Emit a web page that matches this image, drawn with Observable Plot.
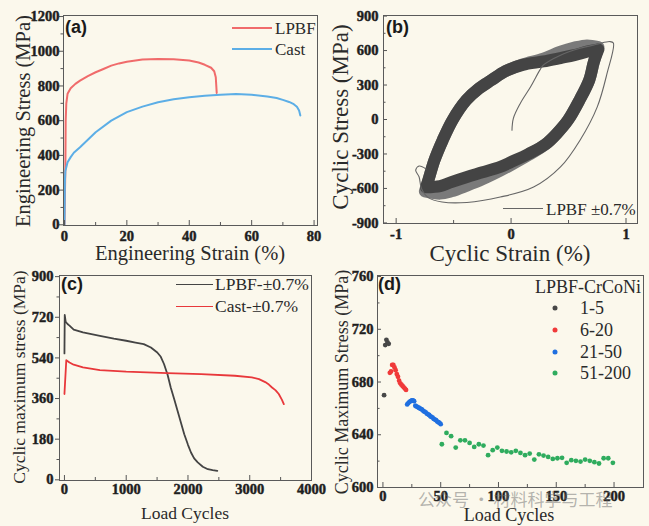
<!DOCTYPE html>
<html><head><meta charset="utf-8">
<script src="https://cdn.jsdelivr.net/npm/d3@7"></script>
<script src="https://cdn.jsdelivr.net/npm/@observablehq/plot@0.6"></script>
<style>
html,body{margin:0;padding:0;background:#fbf8ec;}
#fig{position:relative;width:649px;height:526px;background:#fbf8ec;overflow:hidden;font-family:"Liberation Serif","Times New Roman",serif;color:#2a2a2a;}
.t{position:absolute;white-space:nowrap;line-height:1;transform:translate(0,-50%);}
.c{transform:translate(-50%,-50%);}
.r{transform:translate(-50%,-50%) rotate(-90deg);}
.pl{font-family:"Liberation Sans",Arial,sans-serif;font-weight:bold;font-size:18px;color:#1a1a1a;}
.ln{position:absolute;height:0;}
.dot{position:absolute;width:5px;height:5px;border-radius:50%;transform:translate(-50%,-50%);}
</style></head>
<body><div id="fig"></div>
<script>
// ---------- Panel (a): tensile curves ----------
const aLPBFStrain = [0, 0.3, 0.4, 0.6, 1, 2, 3.5, 5, 7.5, 10, 12.5, 15, 17.5, 20, 25, 30, 35, 40, 43, 45, 47, 48, 48.5, 48.8];
const aLPBFStress = [0, 330, 600, 700, 755, 787, 812, 831, 857, 879, 898, 917, 930, 940, 952, 956, 954, 947, 935, 922, 905, 885, 850, 760];
const aCastStrain = [0, 0.15, 0.3, 1, 2, 3, 5, 7.5, 10, 15, 20, 25, 30, 35, 40, 45, 50, 55, 60, 65, 68, 70, 72, 73.5, 74.5, 75.2, 75.6];
const aCastStress = [0, 250, 310, 360, 390, 415, 447, 490, 533, 600, 649, 681, 706, 723, 735, 744, 750, 754, 750, 739, 731, 720, 708, 695, 680, 658, 630];
const aXMajor = [0, 20, 40, 60, 80], aXMinor = [10, 30, 50, 70];
const aYMajor = [0, 200, 400, 600, 800, 1000, 1200], aYMinor = [100, 300, 500, 700, 900, 1100];

// ---------- Panel (b): hysteresis loops ----------
const bUpStrain = [-0.74, -0.72, -0.667, -0.595, -0.51, -0.39, -0.28, -0.17, -0.05, 0.10, 0.28, 0.43, 0.55, 0.66, 0.76];
const bUpStress = [-590, -529, -355, -180, -6, 168, 270, 343, 420, 475, 505, 535, 560, 590, 610];
const bLoStrain = [0.76, 0.72, 0.68, 0.595, 0.495, 0.40, 0.30, 0.15, 0.0, -0.094, -0.25, -0.384, -0.52, -0.617, -0.74];
const bLoStress = [610, 500, 343, 168, -6, -120, -215, -300, -370, -412, -460, -500, -545, -580, -590];
const bEarlyUpStrain = [-0.75, -0.72, -0.667, -0.595, -0.51, -0.39, -0.28, -0.17, -0.05, 0.10, 0.28, 0.43, 0.55, 0.66, 0.76];
const bEarlyUpStress = [-625, -529, -355, -180, -6, 168, 270, 343, 420, 480, 530, 590, 625, 645, 630];
const bEarlyLoStrain = [0.76, 0.72, 0.68, 0.595, 0.495, 0.40, 0.30, 0.15, 0.0, -0.094, -0.25, -0.384, -0.52, -0.617, -0.75];
const bEarlyLoStress = [630, 500, 343, 168, -6, -120, -215, -310, -395, -445, -520, -575, -625, -645, -625];
const bFirstStrain = [0.008, 0.02, 0.08, 0.17, 0.25, 0.28, 0.43, 0.60, 0.75, 0.86, 0.89, 0.835, 0.75, 0.60, 0.43, 0.196, -0.094, -0.384, -0.60, -0.72, -0.78, -0.80, -0.83, -0.80, -0.74];
const bFirstStress = [-93, 10, 140, 285, 430, 473, 560, 620, 655, 678, 665, 401, 110, -180, -413, -588, -675, -722, -718, -680, -600, -500, -440, -405, -430];
const bXMajor = [-1, 0, 1], bXMinor = [-0.5, 0.5];
const bYMajor = [-900, -600, -300, 0, 300, 600, 900], bYMinor = [-750, -450, -150, 150, 450, 750];

// ---------- Panel (c): cyclic maximum stress ----------
const cLPBFCycles = [0, 5, 20, 50, 82, 150, 300, 574, 800, 1000, 1150, 1284, 1400, 1503, 1560, 1612, 1670, 1721, 1780, 1831, 1890, 1940, 2000, 2049, 2100, 2158, 2240, 2322, 2400, 2475];
const cLPBFStress = [560, 730, 700, 690, 683, 665, 653, 638, 625, 616, 608, 601, 586, 564, 545, 513, 465, 409, 355, 306, 250, 202, 155, 121, 95, 77, 58, 47, 43, 40];
const cCastCycles = [0, 30, 82, 150, 300, 574, 1000, 1667, 2213, 2760, 3033, 3150, 3251, 3310, 3361, 3420, 3470, 3520, 3552];
const cCastStress = [380, 530, 520, 510, 498, 486, 479, 473, 468, 461, 454, 446, 433, 422, 409, 396, 380, 355, 335];
const cXMajor = [0, 1000, 2000, 3000, 4000], cXMinor = [500, 1500, 2500, 3500];
const cYMajor = [0, 180, 360, 540, 720, 900], cYMinor = [90, 270, 450, 630, 810];

// ---------- Panel (d): first 200 cycles ----------
const dCycles1 = [1, 2, 3, 4, 5];
const dStress1 = [670, 708, 712, 710, 709];
const dCycles2 = [6, 7, 8, 9, 10, 11, 12, 13, 14, 15, 16, 17, 18, 19, 20];
const dStress2 = [687, 688, 693, 693, 691, 689, 686, 684, 681, 679, 678, 677, 676, 675, 674];
const dCycles3 = [21, 22, 23, 24, 25, 26, 27, 28, 29, 30, 31, 32, 33, 34, 35, 36, 37, 38, 39, 40, 41, 42, 43, 44, 45, 46, 47, 48, 49, 50];
const dStress3 = [663, 664, 665, 665.5, 666, 666, 665.5, 662, 661.5, 661, 660.5, 660, 659.5, 659, 658, 657.5, 657, 656, 655.5, 655, 654, 653.5, 653, 652, 651.5, 651, 650, 649.5, 649, 648];
const dCycles4 = [51, 55, 59, 63, 67, 71, 75, 79, 83, 87, 91, 95, 99, 103, 107, 111, 115, 119, 123, 127, 131, 135, 139, 143, 147, 151, 155, 159, 163, 167, 171, 175, 179, 183, 187, 191, 195, 199];
const dStress4 = [632.8, 641.4, 638.9, 630.3, 635.8, 635.8, 633.8, 630.8, 632.8, 631.8, 624.5, 628.3, 630.3, 627.8, 627.3, 626.7, 627.8, 626.2, 624.5, 625.7, 621.2, 625.2, 624.2, 623.2, 621.7, 622.2, 622.5, 618.7, 620.7, 620.2, 619.7, 621.2, 620.2, 619.2, 618.2, 622.2, 622.2, 618.7];
const dGroups = ["1-5", "6-20", "21-50", "51-200"];
const dColors = ["#474747", "#f03a3a", "#1f6fe0", "#2fac5e"];
const dXMajor = [0, 50, 100, 150, 200], dXMinor = [25, 75, 125, 175];
const dYMajor = [600, 640, 680, 720, 760], dYMinor = [620, 660, 700, 740];

const fig = document.getElementById("fig");
const pts = (xs, ys) => xs.map((x, i) => ({x, y: ys[i]}));
const loop = (ux, uy, lx, ly) => pts(ux.concat(lx), uy.concat(ly));
const SERIF = "Liberation Serif";

function panel(c) {
  const pw = c.width - c.ml - c.mr, ph = c.height - c.mt - c.mb;
  const fmt = d => String(d);
  const yTick = (len) => c.yOut ? {insetLeft: -len, insetRight: pw} : {insetRight: pw - len};
  const tickText = {tickSize: 0, tickFormat: fmt, fontSize: 14.5, fontWeight: "bold", fontFamily: SERIF, fill: "#1e1e1e", label: null};
  const svg = Plot.plot({
    width: c.width, height: c.height,
    marginTop: c.mt, marginRight: c.mr, marginBottom: c.mb, marginLeft: c.ml,
    style: {background: "transparent", color: "#222", overflow: "visible", fontFamily: SERIF},
    x: {domain: c.xDomain}, y: {domain: c.yDomain},
    marks: [
      ...c.marks,
      Plot.tickX(c.xMajor, {x: d => d, insetTop: ph - 5, stroke: "#555"}),
      Plot.tickX(c.xMinor, {x: d => d, insetTop: ph - 3, stroke: "#555"}),
      Plot.tickY(c.yMajor, {y: d => d, ...yTick(4), stroke: "#555"}),
      Plot.tickY(c.yMinor, {y: d => d, ...yTick(2.5), stroke: "#555"}),
      Plot.axisX(c.xMajor, {...tickText, tickPadding: c.xPad}),
      Plot.axisY(c.yMajor, {...tickText, tickPadding: c.yPad}),
      Plot.frame({stroke: "#5a5a5a", strokeWidth: 1})
    ]
  });
  svg.style.position = "absolute";
  svg.style.left = c.left + "px";
  svg.style.top = c.top + "px";
  svg.querySelectorAll("text").forEach(t => {
    t.style.fontFamily = "'Liberation Serif', serif";
    t.style.fontWeight = "700";
    t.style.stroke = "#1e1e1e";
    t.style.strokeWidth = "0.45px";
    t.style.paintOrder = "stroke";
  });
  fig.appendChild(svg);
}

// (a)
panel({left: 0, top: 0, width: 325, height: 262, mt: 15, mr: 8, mb: 37, ml: 63, yOut: true,
  xDomain: [-0.3, 81.1], yDomain: [-4, 1206], xMajor: aXMajor, xMinor: aXMinor, yMajor: aYMajor, yMinor: aYMinor, xPad: 5, yPad: 4,
  marks: [
    Plot.line(pts(aLPBFStrain, aLPBFStress), {x: "x", y: "y", stroke: "#f06b6b", strokeWidth: 2}),
    Plot.line(pts(aCastStrain, aCastStress), {x: "x", y: "y", stroke: "#5caee6", strokeWidth: 2})
  ]});

// (b)
panel({left: 325, top: 0, width: 324, height: 262, mt: 15, mr: 12, mb: 39, ml: 58, yOut: false,
  xDomain: [-1.11, 1.10], yDomain: [-905, 905], xMajor: bXMajor, xMinor: bXMinor, yMajor: bYMajor, yMinor: bYMinor, xPad: 5, yPad: 5,
  marks: [
    Plot.line(loop(bEarlyUpStrain, bEarlyUpStress, bEarlyLoStrain, bEarlyLoStress), {x: "x", y: "y", stroke: "#7a7a7a", strokeWidth: 12, strokeLinejoin: "round", curve: "catmull-rom"}),
    Plot.line(loop(bUpStrain, bUpStress, bLoStrain, bLoStress), {x: "x", y: "y", stroke: "#444444", strokeWidth: 12, strokeLinejoin: "round", curve: "catmull-rom"}),
    Plot.line(pts(bFirstStrain, bFirstStress), {x: "x", y: "y", stroke: "#666", strokeWidth: 1.1, curve: "catmull-rom"})
  ]});

// (c)
panel({left: 0, top: 262, width: 325, height: 264, mt: 13, mr: 14, mb: 46, ml: 59, yOut: true,
  xDomain: [-80, 4000], yDomain: [-3, 905], xMajor: cXMajor, xMinor: cXMinor, yMajor: cYMajor, yMinor: cYMinor, xPad: 3, yPad: 6,
  marks: [
    Plot.line(pts(cLPBFCycles, cLPBFStress), {x: "x", y: "y", stroke: "#444", strokeWidth: 1.8}),
    Plot.line(pts(cCastCycles, cCastStress), {x: "x", y: "y", stroke: "#e8383b", strokeWidth: 1.8})
  ]});

// (d)
const dData = [[dCycles1, dStress1], [dCycles2, dStress2], [dCycles3, dStress3], [dCycles4, dStress4]]
  .flatMap(([xs, ys], g) => xs.map((x, i) => ({x, y: ys[i], g: dGroups[g]})));
panel({left: 325, top: 262, width: 324, height: 264, mt: 13, mr: 6, mb: 39, ml: 52, yOut: false,
  xDomain: [-4.7, 225.5], yDomain: [600, 760.8], xMajor: dXMajor, xMinor: dXMinor, yMajor: dYMajor, yMinor: dYMinor, xPad: 3, yPad: 4,
  marks: [
    Plot.dot(dData, {x: "x", y: "y", r: 2.4, fill: d => dColors[dGroups.indexOf(d.g)], stroke: "none"})
  ]});

// ---------- text, labels, legends ----------
function txt(html, x, y, size, cls = "t", extra = "") {
  const e = document.createElement("div");
  e.className = cls;
  e.innerHTML = html;
  e.style.cssText = `left:${x}px;top:${y}px;font-size:${size}px;${extra}`;
  fig.appendChild(e);
  return e;
}
function line(x1, x2, y, color, w) {
  const e = document.createElement("div");
  e.className = "ln";
  e.style.cssText = `left:${x1}px;top:${y - w / 2}px;width:${x2 - x1}px;border-top:${w}px solid ${color};`;
  fig.appendChild(e);
}
function dot(x, y, color) {
  const e = document.createElement("div");
  e.className = "dot";
  e.style.cssText = `left:${x}px;top:${y}px;background:${color};`;
  fig.appendChild(e);
}

// panel tags
txt("(a)", 65, 27, 18, "t pl");
txt("(b)", 386, 27, 18, "t pl");
txt("(c)", 61, 284, 18, "t pl");
txt("(d)", 378, 284, 18, "t pl");

// axis titles
txt("Engineering Stress (MPa)", 23, 121, 20.5, "t r");
txt("Engineering Strain (%)", 190, 253, 20.5, "t c");
txt("Cyclic Stress (MPa)", 340, 117, 23, "t r");
txt("Cyclic Strain (%)", 510, 253, 23, "t c");
txt("Cyclic maximum stress (MPa)", 20, 377, 17.5, "t r");
txt("Load Cycles", 185, 514, 17.5, "t c");
txt("Cyclic Maximum Stress (MPa)", 342, 382, 18, "t r");
txt("Load Cycles", 509, 515, 18, "t c");

// legend (a)
line(232, 272, 28, "#f06b6b", 2);
txt("LPBF", 275, 28, 17);
line(232, 272, 49, "#5caee6", 2);
txt("Cast", 275, 49, 17);

// legend (b)
line(503, 543, 209, "#666", 1.2);
txt("LPBF ±0.7%", 546, 209, 17);

// legend (c)
line(176, 213, 285, "#444", 1.8);
txt("LPBF-±0.7%", 215, 285, 17.5);
line(176, 213, 307, "#e8383b", 1.8);
txt("Cast-±0.7%", 215, 307, 17.5);

// legend (d)
txt("LPBF-CrCoNi", 535, 287, 18);
const dLegY = [308, 330, 352, 373];
dGroups.forEach((g, i) => { dot(555, dLegY[i], dColors[i]); txt(g, 580, dLegY[i], 18); });

// watermark
txt("公众号 · 材料科学与工程", 418, 498, 17, "t", 'font-family:"Noto Sans CJK SC",sans-serif;color:rgba(110,110,110,0.5);');
</script>
</body></html>
